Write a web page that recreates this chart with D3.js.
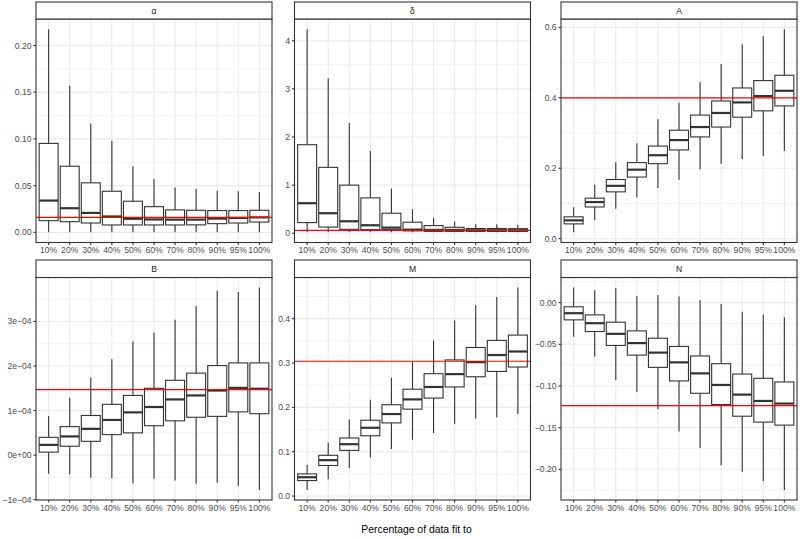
<!DOCTYPE html>
<html><head><meta charset="utf-8">
<script src="https://cdn.jsdelivr.net/npm/d3@7"></script>
<style>
body{margin:0;background:#fff}
svg{display:block}
text{font-family:"Liberation Sans",Arial,Helvetica,sans-serif}
</style>
</head><body>
<svg id="chart" width="800" height="539"></svg>
<script>
// ---------- data ----------
const categories = ["10%","20%","30%","40%","50%","60%","70%","80%","90%","95%","100%"];
const panelTitles = ["α","δ","A","B","M","N"];

// each entry: [lower whisker, Q1, median, Q3, upper whisker]
const alphaStats = [
  [0, 0.0125, 0.034, 0.0952, 0.2175],
  [0, 0.0114, 0.0258, 0.0708, 0.157],
  [0, 0.0100, 0.0208, 0.053, 0.1166],
  [0, 0.0079, 0.0170, 0.044, 0.098],
  [0, 0.0079, 0.0145, 0.0333, 0.0708],
  [0, 0.0079, 0.0138, 0.0275, 0.0572],
  [0, 0.0079, 0.0136, 0.0240, 0.048],
  [0, 0.0080, 0.0136, 0.0236, 0.0465],
  [0, 0.0093, 0.0147, 0.0233, 0.0444],
  [0, 0.0100, 0.0154, 0.0233, 0.044],
  [0, 0.0110, 0.0160, 0.0236, 0.0433]
];
const deltaStats = [
  [0.02, 0.222, 0.625, 1.84, 4.24],
  [0.02, 0.13, 0.417, 1.37, 3.22],
  [0.02, 0.083, 0.25, 1.0, 2.29],
  [0.02, 0.076, 0.167, 0.736, 1.71],
  [0.02, 0.076, 0.118, 0.417, 0.93],
  [0.02, 0.05, 0.076, 0.23, 0.5],
  [0.02, 0.04, 0.07, 0.16, 0.326],
  [0.02, 0.04, 0.07, 0.125, 0.243],
  [0.02, 0.04, 0.063, 0.10, 0.19],
  [0.02, 0.04, 0.063, 0.10, 0.19],
  [0.02, 0.04, 0.063, 0.097, 0.18]
];
const aStats = [
  [0.018, 0.042, 0.052, 0.062, 0.089],
  [0.052, 0.090, 0.104, 0.115, 0.153],
  [0.085, 0.133, 0.150, 0.168, 0.217],
  [0.117, 0.175, 0.196, 0.216, 0.271],
  [0.144, 0.213, 0.237, 0.263, 0.339],
  [0.167, 0.252, 0.280, 0.308, 0.386],
  [0.197, 0.289, 0.317, 0.351, 0.444],
  [0.213, 0.317, 0.357, 0.391, 0.496],
  [0.226, 0.345, 0.387, 0.428, 0.552],
  [0.234, 0.363, 0.405, 0.449, 0.575],
  [0.249, 0.377, 0.420, 0.464, 0.595]
];
const bStats = [
  [-0.42e-4, 0.067e-4, 0.23e-4, 0.40e-4, 0.88e-4],
  [-0.43e-4, 0.20e-4, 0.42e-4, 0.64e-4, 1.29e-4],
  [-0.51e-4, 0.31e-4, 0.59e-4, 0.89e-4, 1.74e-4],
  [-0.52e-4, 0.46e-4, 0.79e-4, 1.14e-4, 2.15e-4],
  [-0.63e-4, 0.50e-4, 0.96e-4, 1.34e-4, 2.55e-4],
  [-0.53e-4, 0.66e-4, 1.08e-4, 1.50e-4, 2.75e-4],
  [-0.57e-4, 0.77e-4, 1.25e-4, 1.68e-4, 3.04e-4],
  [-0.64e-4, 0.85e-4, 1.34e-4, 1.84e-4, 3.34e-4],
  [-0.62e-4, 0.87e-4, 1.45e-4, 2.01e-4, 3.69e-4],
  [-0.69e-4, 0.97e-4, 1.51e-4, 2.07e-4, 3.66e-4],
  [-0.78e-4, 0.93e-4, 1.49e-4, 2.07e-4, 3.76e-4]
];
const mStats = [
  [0.014, 0.035, 0.0425, 0.050, 0.070],
  [0.038, 0.069, 0.081, 0.092, 0.121],
  [0.063, 0.103, 0.117, 0.131, 0.173],
  [0.087, 0.136, 0.154, 0.171, 0.217],
  [0.106, 0.165, 0.185, 0.206, 0.267],
  [0.127, 0.196, 0.218, 0.241, 0.304],
  [0.142, 0.221, 0.246, 0.276, 0.351],
  [0.163, 0.246, 0.275, 0.307, 0.396],
  [0.175, 0.269, 0.302, 0.335, 0.430],
  [0.178, 0.281, 0.318, 0.351, 0.449],
  [0.185, 0.291, 0.326, 0.363, 0.470]
];
const nStats = [
  [-0.041, -0.0207, -0.0127, -0.005, 0.018],
  [-0.065, -0.0347, -0.0247, -0.0147, 0.0147],
  [-0.0928, -0.0514, -0.0375, -0.0235, 0.0175],
  [-0.107, -0.063, -0.0486, -0.0339, 0.008],
  [-0.128, -0.0777, -0.060, -0.0427, 0.009],
  [-0.1546, -0.094, -0.0717, -0.0526, 0.0072],
  [-0.1745, -0.1088, -0.0849, -0.064, 0.0028],
  [-0.195, -0.1223, -0.0988, -0.0733, -0.0016],
  [-0.2028, -0.1363, -0.1104, -0.0857, -0.011],
  [-0.214, -0.1434, -0.118, -0.0908, -0.0143],
  [-0.2247, -0.147, -0.1211, -0.0952, -0.0175]
];
const trueValues = [0.016, 0.06, 0.4, 1.47e-4, 0.304, -0.1235];

const alphaTicks = [0, 0.05, 0.10, 0.15, 0.20];
const alphaTickLabels = ["0.00","0.05","0.10","0.15","0.20"];
const deltaTicks = [0, 1, 2, 3, 4];
const deltaTickLabels = ["0","1","2","3","4"];
const aTicks = [0, 0.2, 0.4, 0.6];
const aTickLabels = ["0.0","0.2","0.4","0.6"];
const bTicks = [-1e-4, 0, 1e-4, 2e-4, 3e-4];
const bTickLabels = ["\u22121e\u221204","0e+00","1e\u221204","2e\u221204","3e\u221204"];
const mTicks = [0, 0.1, 0.2, 0.3, 0.4];
const mTickLabels = ["0.0","0.1","0.2","0.3","0.4"];
const nTicks = [-0.20, -0.15, -0.10, -0.05, 0];
const nTickLabels = ["\u22120.20","\u22120.15","\u22120.10","\u22120.05","0.00"];

const xTitle = "Percentage of data fit to";

// ---------- layout ----------
const svg = d3.select("#chart");
const colLeft = [36, 294.5, 561];
const panelW = 236;
const rows = [
  {stripTop: 2, stripBottom: 19, bottom: 242.5},
  {stripTop: 260, stripBottom: 277.5, bottom: 500}
];
const panels = [
  {stats: alphaStats, ticks: alphaTicks, labels: alphaTickLabels},
  {stats: deltaStats, ticks: deltaTicks, labels: deltaTickLabels},
  {stats: aStats, ticks: aTicks, labels: aTickLabels},
  {stats: bStats, ticks: bTicks, labels: bTickLabels},
  {stats: mStats, ticks: mTicks, labels: mTickLabels},
  {stats: nStats, ticks: nTicks, labels: nTickLabels}
];

const tickCol = "#333333", textCol = "#4D4D4D", gridCol = "#EBEBEB";
const fs = 8.6;
const lw = 1.1;

panels.forEach((p, i) => {
  const col = i % 3, row = rows[Math.floor(i / 3)];
  const left = colLeft[col], right = left + panelW;
  const top = row.stripBottom, bottom = row.bottom;
  const g = svg.append("g");

  const x = d3.scalePoint().domain(categories).range([left, right]).padding(0.6);
  const vals = p.stats.flat().concat([trueValues[i]]);
  const [lo, hi] = d3.extent(vals);
  const ex = (hi - lo) * 0.05;
  const y = d3.scaleLinear().domain([lo - ex, hi + ex]).range([bottom, top]);

  g.append("rect").attr("x", left).attr("y", top).attr("width", panelW).attr("height", bottom - top).attr("fill", "#fff");

  // minor grid
  const t = p.ticks, step = t[1] - t[0];
  const minors = [];
  for (let k = -1; k < t.length; k++) {
    const v = t[0] + step * (k + 0.5);
    const [d0, d1] = y.domain();
    if (v > d0 && v < d1) minors.push(v);
  }
  g.selectAll(".minor").data(minors).join("line")
    .attr("x1", left).attr("x2", right)
    .attr("y1", d => y(d)).attr("y2", d => y(d))
    .attr("stroke", gridCol).attr("stroke-width", 0.6);
  g.selectAll(".majory").data(t).join("line")
    .attr("x1", left).attr("x2", right)
    .attr("y1", d => y(d)).attr("y2", d => y(d))
    .attr("stroke", gridCol).attr("stroke-width", 1.1);
  g.selectAll(".majorx").data(categories).join("line")
    .attr("x1", d => x(d)).attr("x2", d => x(d))
    .attr("y1", top).attr("y2", bottom)
    .attr("stroke", gridCol).attr("stroke-width", 1.1);

  // boxes
  const bw = x.step() * 0.9;
  const boxes = g.selectAll(".box").data(p.stats.map((s, k) => ({c: categories[k], s}))).join("g");
  boxes.append("line")
    .attr("x1", d => x(d.c)).attr("x2", d => x(d.c))
    .attr("y1", d => y(d.s[4])).attr("y2", d => y(d.s[3]))
    .attr("stroke", tickCol).attr("stroke-width", lw);
  boxes.append("line")
    .attr("x1", d => x(d.c)).attr("x2", d => x(d.c))
    .attr("y1", d => y(d.s[1])).attr("y2", d => y(d.s[0]))
    .attr("stroke", tickCol).attr("stroke-width", lw);
  boxes.append("rect")
    .attr("x", d => x(d.c) - bw / 2).attr("width", bw)
    .attr("y", d => y(d.s[3])).attr("height", d => y(d.s[1]) - y(d.s[3]))
    .attr("fill", "#fff").attr("stroke", tickCol).attr("stroke-width", lw);
  boxes.append("line")
    .attr("x1", d => x(d.c) - bw / 2).attr("x2", d => x(d.c) + bw / 2)
    .attr("y1", d => y(d.s[2])).attr("y2", d => y(d.s[2]))
    .attr("stroke", tickCol).attr("stroke-width", 2.2);

  // true-value line
  g.append("line")
    .attr("x1", left).attr("x2", right)
    .attr("y1", y(trueValues[i])).attr("y2", y(trueValues[i]))
    .attr("stroke", "#FF0000").attr("stroke-width", 1.2);

  // panel border
  g.append("rect").attr("x", left).attr("y", top).attr("width", panelW).attr("height", bottom - top)
    .attr("fill", "none").attr("stroke", tickCol).attr("stroke-width", lw);

  // strip
  g.append("rect").attr("x", left).attr("y", row.stripTop).attr("width", panelW).attr("height", row.stripBottom - row.stripTop)
    .attr("fill", "#fff").attr("stroke", tickCol).attr("stroke-width", lw);
  g.append("text").attr("x", left + panelW / 2).attr("y", (row.stripTop + row.stripBottom) / 2)
    .attr("text-anchor", "middle").attr("dominant-baseline", "central")
    .attr("font-size", fs).attr("fill", "#1A1A1A").text(panelTitles[i]);

  // y axis
  g.selectAll(".yt").data(t).join("line")
    .attr("x1", left - 2.5).attr("x2", left)
    .attr("y1", d => y(d)).attr("y2", d => y(d))
    .attr("stroke", tickCol).attr("stroke-width", lw);
  g.selectAll(".yl").data(t).join("text")
    .attr("x", left - 4.4).attr("y", d => y(d)).attr("dy", "0.35em")
    .attr("text-anchor", "end").attr("font-size", fs).attr("fill", textCol)
    .text((d, k) => p.labels[k]);

  // x axis
  g.selectAll(".xt").data(categories).join("line")
    .attr("x1", d => x(d)).attr("x2", d => x(d))
    .attr("y1", bottom).attr("y2", bottom + 2.5)
    .attr("stroke", tickCol).attr("stroke-width", lw);
  g.selectAll(".xl").data(categories).join("text")
    .attr("x", d => x(d)).attr("y", bottom + 4.2).attr("dy", "0.75em")
    .attr("text-anchor", "middle").attr("font-size", fs).attr("fill", textCol)
    .text(d => d);
});

svg.append("text").attr("x", (colLeft[0] + colLeft[2] + panelW) / 2).attr("y", 533)
  .attr("text-anchor", "middle").attr("font-size", 10.4).attr("fill", "#000").text(xTitle);
</script>
</body></html>
